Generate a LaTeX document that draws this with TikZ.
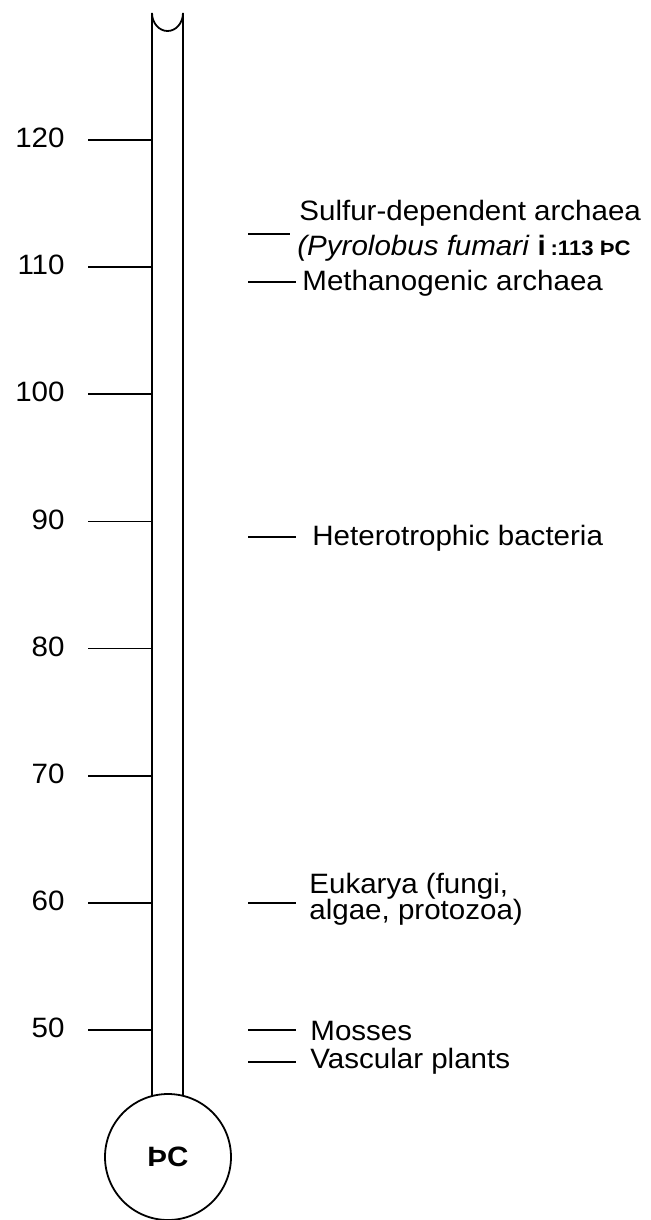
\documentclass[tikz,border=0pt]{standalone}
\usepackage{fontspec}
\setmainfont[FakeStretch=1.055]{Liberation Sans}
\usetikzlibrary{positioning}

\begin{document}
\begin{tikzpicture}[
    x=0.5pt, y=-0.5pt,
    every node/.style={font=\fontsize{14}{17}\selectfont, inner sep=0pt},
    tube/.style={line width=0.9pt},
    tick/.style={line width=0.8pt},
    lbl/.style={anchor=base west},
  ]
  \useasboundingbox (0,0) rectangle (650,1220);

  % thermometer
  \node[circle, draw, line width=0.9pt, minimum size=63pt, font=\fontsize{14}{17}\selectfont\bfseries] (bulb) at (168,1157) {ÞC};
  \draw[tube] (152,1096) -- (152,13)
    arc[start angle=180, end angle=0, x radius=15.5, y radius=18] -- (183,1096);

  % scale
  \foreach \t [evaluate=\t as \yy using {140+(120-\t)*12.714}] in {50,60,...,120} {
    \draw[tick] (88,\yy) -- (152,\yy);
    \node[anchor=east] (deg\t) at (65,\yy-2) {\t};
  }

  % organisms
  \draw[tick] (248,234) -- (290,234);
  \node[lbl] (sulfur) at (299,220) {Sulfur-dependent archaea};
  \node[lbl] (pyrolobus) at (297,255) {\textit{(Pyrolobus fumari} \textbf{i}\,{\fontsize{10.5}{12}\selectfont\bfseries :113 ÞC}};

  \draw[tick] (248,282) -- (296,282);
  \node[lbl] (methano) at (302,290) {Methanogenic archaea};

  \draw[tick] (248,537) -- (296,537);
  \node[lbl] (hetero) at (312,545) {Heterotrophic bacteria};

  \draw[tick] (248,903) -- (296,903);
  \node[lbl] (eukarya) at (309,893) {Eukarya (fungi,};
  \node[lbl] (eukaryb) at (309,919) {algae, protozoa)};

  \draw[tick] (248,1030) -- (296,1030);
  \node[lbl] (mosses) at (310,1040) {Mosses};

  \draw[tick] (248,1062) -- (296,1062);
  \node[lbl] (vascular) at (310,1068) {Vascular plants};
\end{tikzpicture}
\end{document}
